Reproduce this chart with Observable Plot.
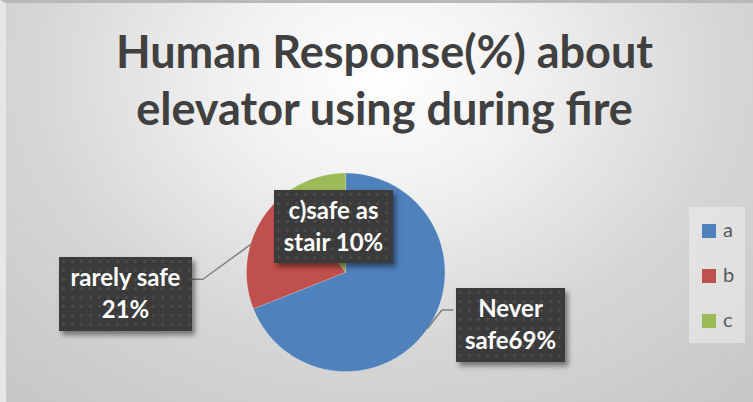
<!DOCTYPE html>
<html>
<head>
<meta charset="utf-8">
<script src="https://cdn.jsdelivr.net/npm/d3@7"></script>
<script src="https://cdn.jsdelivr.net/npm/@observablehq/plot@0.6"></script>
<style>
  html, body { margin: 0; padding: 0; background: #fff; }
  #chart {
    position: relative; width: 753px; height: 402px; overflow: hidden;
    background: radial-gradient(ellipse 75% 110% at 50% 18%, #ffffff 0%, #f0f0f0 28%, #d6d6d6 62%, #c6c6c6 100%);
    font-family: Lato, "Open Sans", sans-serif;
    box-sizing: border-box;
    border-top: 3px solid #b9b9b9;
    border-left: 6px solid #e6e6e6;
  }
  #chart svg { position: absolute; left: -6px; top: -3px; }
  .title {
    position: absolute; left: 2px; width: 753px; top: 20px; text-align: center;
    font-weight: 700; font-size: 45px; line-height: 57px; color: #404040;
  }
  .lbl {
    position: absolute; color: #fff; font-weight: 700; font-size: 24px; line-height: 32px;
    text-align: center; white-space: pre; box-sizing: border-box; padding-top: 4px;
    background-color: #3b3b3b;
    background-image: radial-gradient(circle, #4d4d4d 1.1px, transparent 1.6px);
    background-size: 9px 9px;
    box-shadow: 3px 4px 5px rgba(0,0,0,0.45);
  }
  .legend {
    position: absolute; background: rgba(238,238,238,0.55);
  }
  .legend .item { position: absolute; left: 13px; font-size: 20px; color: #595959; line-height: 20px; }
  .legend .sw { display: inline-block; width: 14px; height: 14px; vertical-align: -1px; margin-right: 7px; }
</style>
</head>
<body>
<div id="chart"></div>
<script>
// ---- data ----
const categories = ["a", "b", "c"];
const values = [69, 21, 10];
const labelLines = ["Never\nsafe69%", "rarely safe\n21%", "c)safe as\nstair 10%"];
const colors = ["#4f81bd", "#c0504d", "#9bbb59"];
const titleText = "Human Response(%) about\nelevator using during fire";

// ---- layout (px / unit offsets, not data) ----
const W = 753, H = 402, cx = 348, cy = 274, R = 100;
const boxes = [
  {x: 456, y: 288, w: 109, h: 74},
  {x: 59,  y: 257, w: 133, h: 74},
  {x: 274, y: 190, w: 119, h: 73}
];
// leader elbows/ends in px
const leaders = [
  [[445, 312], [456, 312]],
  [[204, 281], [192, 281]],
  null
];

const chart = document.getElementById("chart");
const total = d3.sum(values);

// build slice polygons from the data
const slices = [];
let acc = 0;
categories.forEach((c, i) => {
  const a0 = acc / total * 2 * Math.PI;
  acc += values[i];
  const a1 = acc / total * 2 * Math.PI;
  slices.push({cat: c, a0, a1, mid: (a0 + a1) / 2});
});
const polyPts = [];
for (const s of slices) {
  polyPts.push({cat: s.cat, x: 0, y: 0});
  const n = Math.max(2, Math.ceil((s.a1 - s.a0) / (Math.PI / 180)));
  for (let k = 0; k <= n; k++) {
    const a = s.a0 + (s.a1 - s.a0) * k / n;
    polyPts.push({cat: s.cat, x: Math.sin(a), y: Math.cos(a)});
  }
  polyPts.push({cat: s.cat, x: 0, y: 0});
}
const toU = ([px, py]) => ({x: (px - cx) / R, y: (cy - py) / R});
const leaderPts = [];
slices.forEach((s, i) => {
  if (!leaders[i]) return;
  leaderPts.push({id: i, x: Math.sin(s.mid), y: Math.cos(s.mid)});
  for (const p of leaders[i]) leaderPts.push({id: i, ...toU(p)});
});

const plot = Plot.plot({
  width: W, height: H,
  margin: 0,
  style: {background: "transparent", overflow: "visible"},
  x: {domain: [-cx / R, (W - cx) / R], axis: null},
  y: {domain: [-(H - cy) / R, cy / R], axis: null},
  color: {domain: categories, range: colors},
  marks: [
    Plot.line(polyPts, {x: "x", y: "y", z: "cat", fill: "cat", stroke: "#ffffff", strokeWidth: 0.5, strokeOpacity: 0.35, curve: "linear"}),
    Plot.line(leaderPts, {x: "x", y: "y", z: "id", stroke: "#808080", strokeWidth: 1.5})
  ]
});
chart.appendChild(plot);

const t = document.createElement("div");
t.className = "title";
t.innerHTML = titleText.split("\n").join("<br>");
chart.appendChild(t);

labelLines.forEach((txt, i) => {
  const b = boxes[i];
  const d = document.createElement("div");
  d.className = "lbl";
  d.style.left = (b.x - 6) + "px";
  d.style.top = (b.y - 3) + "px";
  d.style.width = b.w + "px";
  d.style.height = b.h + "px";
  d.textContent = txt;
  chart.appendChild(d);
});

const lg = document.createElement("div");
lg.className = "legend";
lg.style.left = (689 - 6) + "px";
lg.style.top = (207 - 3) + "px";
lg.style.width = "56px";
lg.style.height = "136px";
categories.forEach((c, i) => {
  const it = document.createElement("div");
  it.className = "item";
  it.style.top = (12 + i * 45) + "px";
  it.innerHTML = `<span class="sw" style="background:${colors[i]}"></span>${c}`;
  lg.appendChild(it);
});
chart.appendChild(lg);
</script>
</body>
</html>
